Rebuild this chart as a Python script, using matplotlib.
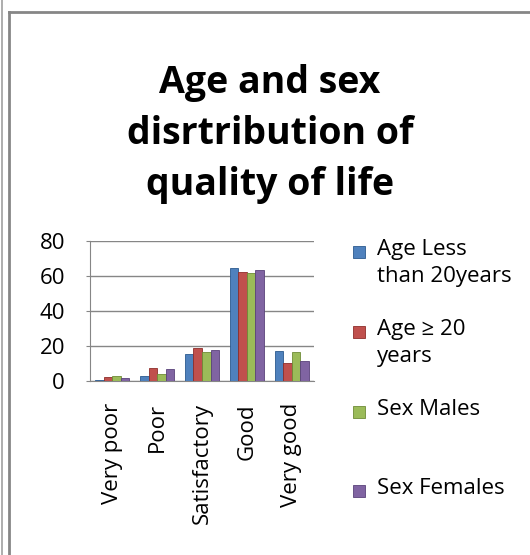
import matplotlib
matplotlib.use("Agg")
import matplotlib.pyplot as plt
import numpy as np
from matplotlib.patches import Rectangle
from matplotlib.lines import Line2D

categories = ["Very poor", "Poor", "Satisfactory", "Good", "Very good"]
series_names = ["Age Less\nthan 20years", "Age \u2265 20\nyears", "Sex Males", "Sex Females"]
age_lt20 = [0.8, 2.7, 15.6, 64.6, 17.3]
age_ge20 = [2.3, 7.5, 18.7, 62.3, 10.4]
sex_males = [2.7, 3.8, 16.5, 61.7, 16.7]
sex_females = [1.5, 6.9, 17.9, 63.3, 11.5]
y_ticks = [0, 20, 40, 60, 80]

colors = ["#4F81BD", "#C0504D", "#9BBB59", "#8064A2"]
edges = ["#2C5A8F", "#8E2E2B", "#6E8B36", "#5A437A"]
FONT = ["Open Sans", "DejaVu Sans"]
GRID = "#868686"
FS = 16

W, H = 530, 555
fig = plt.figure(figsize=(W / 100, H / 100), dpi=100)

# outer frame lines (chart border)
fig.add_artist(Line2D([1.5 / W, 1.5 / W], [0, 1], color="#A0A0A0", lw=1.2))
fig.add_artist(Line2D([8.5 / W, 8.5 / W], [0, 1 - 12 / H], color=GRID, lw=2))
fig.add_artist(Line2D([8.5 / W, 1], [1 - 12 / H, 1 - 12 / H], color=GRID, lw=2))

fig.text(270 / W, 1 - 134 / H, "Age and sex\ndisrtribution of\nquality of life",
         ha="center", va="center", fontsize=27, fontweight="bold",
         family=FONT, linespacing=1.45)

ax = fig.add_axes([90 / W, 1 - 381 / H, 224 / W, 140 / H])
x = np.arange(len(categories))
bw = 0.19
all_series = [age_lt20, age_ge20, sex_males, sex_females]
for i, vals in enumerate(all_series):
    ax.bar(x + (i - 1.5) * bw, vals, bw, color=colors[i], edgecolor=edges[i],
           linewidth=0.6, zorder=3)

ax.set_xlim(-0.5, len(categories) - 0.5)
ax.set_ylim(0, 80)
ax.set_yticks(y_ticks)
ax.set_yticklabels([str(t) for t in y_ticks], fontsize=FS, family=FONT)
ax.set_xticks(x)
ax.set_xticklabels(categories, rotation=90, fontsize=FS, family=FONT, va="top")
ax.grid(axis="y", color=GRID, lw=1, zorder=0)
for s in ["top", "right"]:
    ax.spines[s].set_visible(False)
ax.spines["left"].set_color(GRID)
ax.spines["bottom"].set_color(GRID)
ax.tick_params(axis="y", length=3, color=GRID, pad=15)
ax.tick_params(axis="x", length=0, pad=16)

# legend drawn by hand to keep Excel's uneven spacing
legend_y = [252, 332, 412, 491]
for name, c, e, yy in zip(series_names, colors, edges, legend_y):
    fig.add_artist(Rectangle((353 / W, 1 - (yy + 6) / H), 12 / W, 12 / H,
                             facecolor=c, edgecolor=e, lw=0.6))
    fig.text(377 / W, 1 - (yy - 13) / H, name, ha="left", va="top",
             fontsize=FS, family=FONT, linespacing=1.35)

fig.savefig("out.png", dpi=100)
